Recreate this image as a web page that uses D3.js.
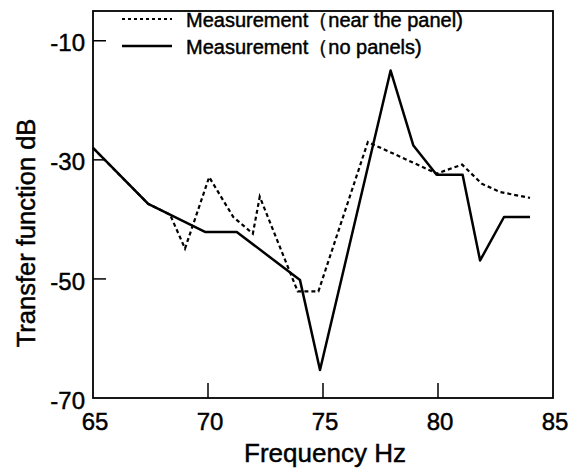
<!DOCTYPE html>
<html>
<head>
<meta charset="utf-8">
<script src="https://cdn.jsdelivr.net/npm/d3@7"></script>
<style>
  body { margin: 0; background: #fff; }
  svg { display: block; font-family: "Liberation Sans", Arial, sans-serif; }
  svg text { stroke: #000; stroke-width: 0.45px; }
</style>
</head>
<body>
<script>
// values (Hz, dB)
const nearFreq = [65, 67.4, 68.35, 69.0, 70.05, 71.1, 71.95, 72.25, 73.9, 74.8, 76.95, 79.95, 81.05, 81.9, 82.7, 84.0];
const nearDb   = [-28, -37.4, -39.2, -44.9, -32.9, -39.6, -42.4, -36.2, -52.1, -52.1, -27.0, -32.3, -30.8, -34.0, -35.4, -36.4];

const noPanelFreq = [65, 67.4, 69.87, 71.25, 74.0, 74.87, 77.94, 78.93, 79.94, 81.07, 81.83, 82.87, 84.0];
const noPanelDb   = [-28, -37.4, -42.1, -42.1, -50.2, -65.3, -15.0, -27.6, -32.5, -32.5, -46.9, -39.6, -39.6];

const xTicks = [65, 70, 75, 80, 85];
const yTicks = [-10, -30, -50, -70];

const legendLabels = ["Measurement（near the panel)", "Measurement（no panels)"];

const width = 583, height = 475;
const margin = { top: 11, right: 30, bottom: 77, left: 93 };

const svg = d3.select("body").append("svg")
  .attr("width", width)
  .attr("height", height);

const x = d3.scaleLinear().domain([65, 85]).range([margin.left, width - margin.right]);
const y = d3.scaleLinear().domain([-70, -5]).range([height - margin.bottom, margin.top]);

// frame
svg.append("rect")
  .attr("x", x(65)).attr("y", y(-5))
  .attr("width", x(85) - x(65)).attr("height", y(-70) - y(-5))
  .attr("fill", "none").attr("stroke", "#000").attr("stroke-width", 1.8);

// inward ticks
svg.append("g").selectAll("line").data(yTicks.filter(d => d > -70)).join("line")
  .attr("x1", x(65)).attr("x2", x(65) + 13)
  .attr("y1", d => y(d)).attr("y2", d => y(d))
  .attr("stroke", "#000").attr("stroke-width", 1.5);

svg.append("g").selectAll("line").data(xTicks.filter(d => d > 65 && d < 85)).join("line")
  .attr("x1", d => x(d)).attr("x2", d => x(d))
  .attr("y1", y(-70)).attr("y2", y(-70) - 15)
  .attr("stroke", "#000").attr("stroke-width", 1.5);

// tick labels
svg.append("g").selectAll("text").data(yTicks).join("text")
  .attr("x", x(65) - 8)
  .attr("y", d => y(d) + 2)
  .attr("dy", "0.36em")
  .attr("text-anchor", "end")
  .attr("font-size", 24)
  .text(d => d);

svg.append("g").selectAll("text").data(xTicks).join("text")
  .attr("x", d => x(d) + 2)
  .attr("y", y(-70) + 32)
  .attr("text-anchor", "middle")
  .attr("font-size", 24)
  .text(d => d);

// axis titles
svg.append("text")
  .attr("x", (x(65) + x(85)) / 2 + 2)
  .attr("y", 462)
  .attr("text-anchor", "middle")
  .attr("font-size", 26)
  .text("Frequency Hz");

svg.append("text")
  .attr("transform", `translate(35,233) rotate(-90)`)
  .attr("text-anchor", "middle")
  .attr("font-size", 25.5)
  .text("Transfer function dB");

// lines
const line = d3.line().x(d => x(d[0])).y(d => y(d[1]));

svg.append("path")
  .datum(d3.zip(noPanelFreq, noPanelDb))
  .attr("d", line)
  .attr("fill", "none").attr("stroke", "#000")
  .attr("stroke-width", 2.5).attr("stroke-linejoin", "round");

svg.append("path")
  .datum(d3.zip(nearFreq, nearDb))
  .attr("d", line)
  .attr("fill", "none").attr("stroke", "#000")
  .attr("stroke-width", 2.2).attr("stroke-dasharray", "4,3");

// legend
const legend = svg.append("g");
legendLabels.forEach((label, i) => {
  const ly = 19 + i * 27;
  legend.append("line")
    .attr("x1", 122).attr("x2", 172)
    .attr("y1", ly).attr("y2", ly)
    .attr("stroke", "#000")
    .attr("stroke-width", i === 0 ? 2 : 2.5)
    .attr("stroke-dasharray", i === 0 ? "3,3" : null);
  legend.append("text")
    .attr("x", 186).attr("y", ly + 1)
    .attr("dy", "0.36em")
    .attr("font-size", 20)
    .text(label);
});
</script>
</body>
</html>
